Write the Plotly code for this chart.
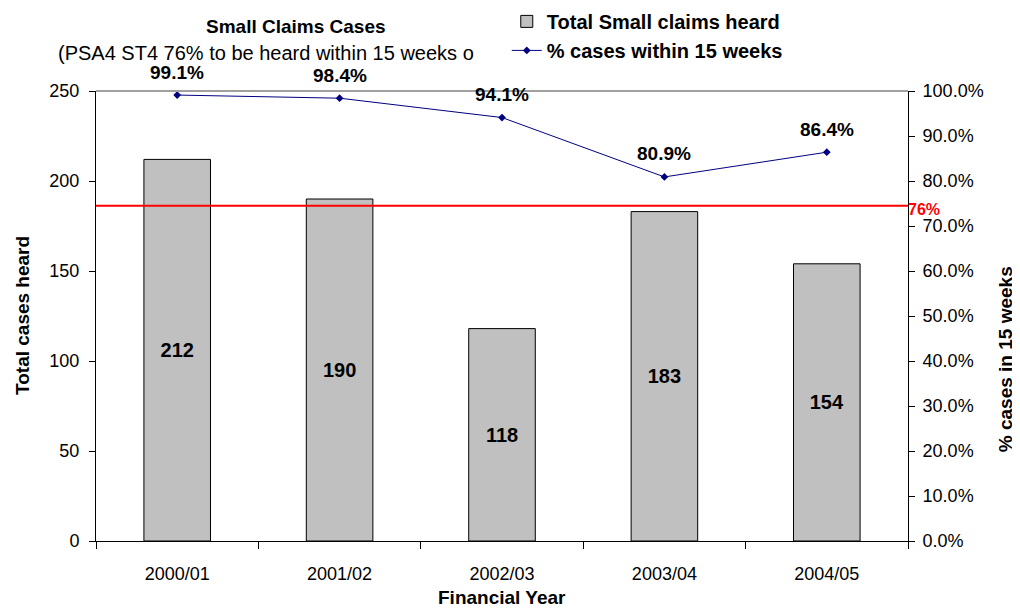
import plotly.graph_objects as go

years = ['2000/01', '2001/02', '2002/03', '2003/04', '2004/05']
cases_heard = [212, 190, 118, 183, 154]
pct_within_15 = [99.1, 98.4, 94.1, 80.9, 86.4]
target_label = '76%'
target_line = 74.5  # where the red target line sits on the right axis

FONT = 'Liberation Sans, Arial, sans-serif'

fig = go.Figure()

fig.add_trace(go.Bar(
    x=years, y=cases_heard, name='Total Small claims heard',
    marker=dict(color='#C0C0C0', line=dict(color='#000000', width=1)),
    width=0.41,
    text=[str(v) for v in cases_heard],
    textposition='inside', insidetextanchor='middle', textangle=0, constraintext='none',
    textfont=dict(family=FONT, size=20, color='#000000', weight='bold'),
    yaxis='y'
))

fig.add_trace(go.Scatter(
    x=years, y=pct_within_15, name='% cases within 15 weeks',
    mode='lines+markers',
    line=dict(color='#000080', width=1),
    marker=dict(symbol='diamond', size=6, color='#000080'),
    yaxis='y2'
))

# percentage labels above the line points
for yr, p in zip(years, pct_within_15):
    fig.add_annotation(
        x=yr, y=p, yref='y2', text=f'{p:.1f}%', showarrow=False, yanchor='middle',
        yshift=23, font=dict(family=FONT, size=19, color='#000000', weight='bold')
    )

# target line
fig.add_shape(type='line', xref='paper', x0=0, x1=1, yref='y2', y0=target_line, y1=target_line,
              line=dict(color='#FF0000', width=2))
fig.add_annotation(xref='paper', x=1, xanchor='left', yref='y2', y=target_line, text=target_label,
                   showarrow=False, xshift=-2, yshift=-4,
                   font=dict(family=FONT, size=16, color='#FF0000', weight='bold'))

# gray top border of plot area
fig.add_shape(type='line', xref='paper', x0=0, x1=1, yref='paper', y0=1, y1=1,
              line=dict(color='#A0A0A0', width=2))

# titles
fig.add_annotation(xref='paper', yref='paper', x=0.246, y=1, yshift=65, xanchor='center', yanchor='middle',
                   text='<b>Small Claims Cases</b>', showarrow=False,
                   font=dict(family=FONT, size=19, color='#000000'))
fig.add_annotation(xref='paper', yref='paper', x=0, y=1, xshift=-40, yshift=38, xanchor='left', yanchor='middle',
                   text='(PSA4 ST4 76% to be heard within 15 weeks o', showarrow=False,
                   font=dict(family=FONT, size=20, color='#000000'))

# axis titles
fig.add_annotation(xref='paper', yref='paper', x=0, y=0.5, xshift=-74, textangle=-90,
                   xanchor='center', yanchor='middle',
                   text='<b>Total cases heard</b>', showarrow=False,
                   font=dict(family=FONT, size=19, color='#000000'))
fig.add_annotation(xref='paper', yref='paper', x=1, y=0.404, xshift=97, textangle=-90,
                   xanchor='center', yanchor='middle',
                   text='<b>% cases in 15 weeks</b>', showarrow=False,
                   font=dict(family=FONT, size=19, color='#000000'))
fig.add_annotation(xref='paper', yref='paper', x=0.5, y=0, yshift=-56, xanchor='center', yanchor='middle',
                   text='<b>Financial Year</b>', showarrow=False,
                   font=dict(family=FONT, size=19, color='#000000'))

fig.update_layout(
    width=1020, height=612,
    margin=dict(l=88, r=120, t=83, b=79, autoexpand=False),
    paper_bgcolor='#FFFFFF', plot_bgcolor='#FFFFFF',
    font=dict(family=FONT, size=18, color='#000000'),
    showlegend=True,
    legend=dict(x=0.489, y=1.198, xref='container', yref='paper', xanchor='left', yanchor='top',
                font=dict(family=FONT, size=20, color='#000000', weight='bold'),
                bgcolor='rgba(255,255,255,0)', tracegroupgap=0, itemwidth=30),
    bargap=0.59,
    xaxis=dict(
        showline=True, linecolor='#000000', linewidth=1,
        ticks='outside', tickson='boundaries', ticklen=7, tickcolor='#000000',
        showgrid=False, tickangle=0, ticklabelstandoff=16,
    ),
    yaxis=dict(
        range=[0, 250], dtick=50, showline=True, linecolor='#000000', linewidth=1,
        ticks='outside', ticklen=6, tickcolor='#000000', showgrid=False, zeroline=False,
        ticklabelstandoff=6,
    ),
    yaxis2=dict(
        range=[0, 100], dtick=10, overlaying='y', side='right',
        ticksuffix='%', tickformat='.1f',
        showline=True, linecolor='#000000', linewidth=1,
        ticks='outside', ticklen=6, tickcolor='#000000', showgrid=False, zeroline=False,
        ticklabelstandoff=4,
    ),
)

fig.write_html('out.html')
